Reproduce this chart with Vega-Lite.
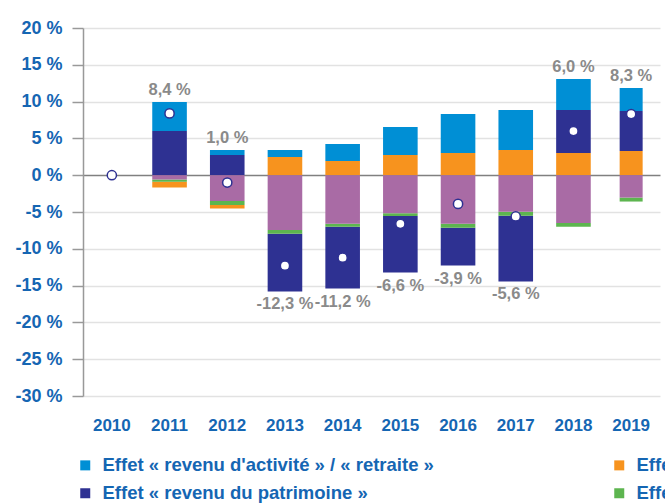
{
  "$schema": "https://vega.github.io/schema/vega-lite/v6.json",
  "autosize": {"type": "none"},
  "width": 577,
  "height": 368,
  "padding": {"left": 83, "top": 28, "right": 5, "bottom": 108},
  "background": "white",
  "config": {
    "view": {"stroke": null},
    "font": "Liberation Sans",
    "axisY": {
      "title": null,
      "labelOverlap": false,
      "labelFont": "Liberation Sans", "labelFontSize": 18, "labelFontWeight": "bold",
      "labelColor": "#1566b3", "labelPadding": 10,
      "tickSize": 11, "tickColor": "#999999", "tickWidth": 1.5,
      "domainColor": "#999999", "domainWidth": 1.5,
      "grid": true, "gridWidth": 1.5
    }
  },
  "datasets": {
    "segments": [
      {"year": "2011", "series": "Effet « revenu d'activité » / « retraite »", "value": 3.95},
      {"year": "2011", "series": "Effet « revenu du patrimoine »", "value": 6.0},
      {"year": "2011", "series": "Effet « prestations sociales »", "value": -0.77},
      {"year": "2011", "series": "Effet « prélèvements »", "value": -0.3},
      {"year": "2011", "series": "Effet « prix »", "value": -0.6},
      {"year": "2012", "series": "Effet « revenu d'activité » / « retraite »", "value": 0.68},
      {"year": "2012", "series": "Effet « revenu du patrimoine »", "value": 2.74},
      {"year": "2012", "series": "Effet « prestations sociales »", "value": -0.5},
      {"year": "2012", "series": "Effet « prélèvements »", "value": -0.54},
      {"year": "2012", "series": "Effet « prix »", "value": -3.5},
      {"year": "2013", "series": "Effet « revenu d'activité » / « retraite »", "value": 0.95},
      {"year": "2013", "series": "Effet « revenu du patrimoine »", "value": -7.83},
      {"year": "2013", "series": "Effet « prestations sociales »", "value": 2.47},
      {"year": "2013", "series": "Effet « prélèvements »", "value": -0.54},
      {"year": "2013", "series": "Effet « prix »", "value": -7.43},
      {"year": "2014", "series": "Effet « revenu d'activité » / « retraite »", "value": 2.31},
      {"year": "2014", "series": "Effet « revenu du patrimoine »", "value": -8.4},
      {"year": "2014", "series": "Effet « prestations sociales »", "value": 1.93},
      {"year": "2014", "series": "Effet « prélèvements »", "value": -0.4},
      {"year": "2014", "series": "Effet « prix »", "value": -6.6},
      {"year": "2015", "series": "Effet « revenu d'activité » / « retraite »", "value": 3.81},
      {"year": "2015", "series": "Effet « revenu du patrimoine »", "value": -7.7},
      {"year": "2015", "series": "Effet « prestations sociales »", "value": 2.74},
      {"year": "2015", "series": "Effet « prélèvements »", "value": -0.36},
      {"year": "2015", "series": "Effet « prix »", "value": -5.17},
      {"year": "2016", "series": "Effet « revenu d'activité » / « retraite »", "value": 5.3},
      {"year": "2016", "series": "Effet « revenu du patrimoine »", "value": -5.12},
      {"year": "2016", "series": "Effet « prestations sociales »", "value": 3.01},
      {"year": "2016", "series": "Effet « prélèvements »", "value": -0.54},
      {"year": "2016", "series": "Effet « prix »", "value": -6.61},
      {"year": "2017", "series": "Effet « revenu d'activité » / « retraite »", "value": 5.44},
      {"year": "2017", "series": "Effet « revenu du patrimoine »", "value": -8.92},
      {"year": "2017", "series": "Effet « prestations sociales »", "value": 3.42},
      {"year": "2017", "series": "Effet « prélèvements »", "value": -0.54},
      {"year": "2017", "series": "Effet « prix »", "value": -4.98},
      {"year": "2018", "series": "Effet « revenu d'activité » / « retraite »", "value": 4.21},
      {"year": "2018", "series": "Effet « revenu du patrimoine »", "value": 5.85},
      {"year": "2018", "series": "Effet « prestations sociales »", "value": 3.01},
      {"year": "2018", "series": "Effet « prélèvements »", "value": -0.54},
      {"year": "2018", "series": "Effet « prix »", "value": -6.48},
      {"year": "2019", "series": "Effet « revenu d'activité » / « retraite »", "value": 3.13},
      {"year": "2019", "series": "Effet « revenu du patrimoine »", "value": 5.43},
      {"year": "2019", "series": "Effet « prestations sociales »", "value": 3.29},
      {"year": "2019", "series": "Effet « prélèvements »", "value": -0.54},
      {"year": "2019", "series": "Effet « prix »", "value": -3.04}
    ],
    "totals": [
      {"year": "2010", "total": 0, "label": "", "side": "none"},
      {"year": "2011", "total": 8.4, "label": "8,4 %", "side": "top"},
      {"year": "2012", "total": -1.0, "label": "1,0 %", "side": "top"},
      {"year": "2013", "total": -12.3, "label": "-12,3 %", "side": "bottom"},
      {"year": "2014", "total": -11.2, "label": "-11,2 %", "side": "bottom"},
      {"year": "2015", "total": -6.6, "label": "-6,6 %", "side": "bottom"},
      {"year": "2016", "total": -3.9, "label": "-3,9 %", "side": "bottom"},
      {"year": "2017", "total": -5.6, "label": "-5,6 %", "side": "bottom"},
      {"year": "2018", "total": 6.0, "label": "6,0 %", "side": "top"},
      {"year": "2019", "total": 8.3, "label": "8,3 %", "side": "top"}
    ]
  },
  "layer": [
    {
      "data": {"name": "segments"},
      "transform": [
        {"calculate": "indexof(['Effet « prix »','Effet « prélèvements »','Effet « prestations sociales »','Effet « revenu du patrimoine »','Effet « revenu d\\'activité » / « retraite »'], datum.series)", "as": "ord"}
      ],
      "mark": {"type": "bar"},
      "encoding": {
        "x": {
          "field": "year", "type": "nominal",
          "scale": {"domain": ["2010","2011","2012","2013","2014","2015","2016","2017","2018","2019"], "paddingInner": 0.4, "paddingOuter": 0.2},
          "axis": {
            "title": null, "labelAngle": 0, "domain": false, "ticks": false,
            "labelFont": "Liberation Sans", "labelFontSize": 17, "labelFontWeight": "bold",
            "labelColor": "#1566b3", "labelPadding": 21
          }
        },
        "y": {
          "field": "value", "type": "quantitative", "stack": "zero",
          "scale": {"domain": [-30, 20], "nice": false},
          "axis": {
            "values": [-30,-25,-20,-15,-10,-5,0,5,10,15,20],
            "labelExpr": "datum.value + ' %'",
            "gridColor": {"condition": {"test": "datum.value === 0", "value": "#808080"}, "value": "#e2e2e2"}
          }
        },
        "color": {
          "field": "series", "type": "nominal",
          "scale": {
            "domain": ["Effet « revenu d'activité » / « retraite »", "Effet « prestations sociales »", "Effet « revenu du patrimoine »", "Effet « prélèvements »", "Effet « prix »"],
            "range": ["#008fd5", "#f7931e", "#2e3192", "#5db54f", "#a96ba5"]
          },
          "legend": {
            "title": null,
            "orient": "none",
            "legendX": -7,
            "legendY": 428,
            "direction": "horizontal",
            "columns": 2,
            "values": ["Effet « revenu d'activité » / « retraite »", "Effet « prestations sociales »", "Effet « revenu du patrimoine »", "Effet « prélèvements »"],
            "symbolType": "square",
            "symbolSize": 100,
            "symbolStrokeWidth": 0,
            "labelFont": "Liberation Sans",
            "labelFontSize": 18.5,
            "labelFontWeight": "bold",
            "labelColor": "#1566b3",
            "labelOffset": 8,
            "labelLimit": 0,
            "rowPadding": 9,
            "columnPadding": 176,
            "padding": 0
          }
        },
        "order": {"field": "ord", "type": "quantitative"},
        "size": {"condition": {"test": "datum.year == '2019'", "value": 23}, "value": 34.6}
      }
    },
    {
      "data": {"name": "totals"},
      "mark": {"type": "point", "filled": true, "fill": "white", "stroke": "#2e3192", "strokeWidth": 1.5, "size": 85, "opacity": 1},
      "encoding": {
        "x": {"field": "year", "type": "nominal"},
        "y": {
          "field": "total", "type": "quantitative",
          "axis": {
            "values": [-30,-25,-20,-15,-10,-5,0,5,10,15,20],
            "labelExpr": "datum.value + ' %'",
            "gridColor": {"condition": {"test": "datum.value === 0", "value": "#808080"}, "value": "#e2e2e2"}
          }
        }
      }
    },
    {
      "data": {"name": "segments"},
      "transform": [
        {"calculate": "max(datum.value, 0)", "as": "pos"},
        {"calculate": "min(datum.value, 0)", "as": "neg"},
        {"aggregate": [{"op": "sum", "field": "pos", "as": "top"}, {"op": "sum", "field": "neg", "as": "bottom"}], "groupby": ["year"]},
        {"lookup": "year", "from": {"data": {"name": "totals"}, "key": "year", "fields": ["label", "side"]}},
        {"filter": "datum.side == 'top'"}
      ],
      "mark": {"type": "text", "baseline": "alphabetic", "dy": -7, "font": "Liberation Sans", "fontSize": 16.5, "fontWeight": "bold", "color": "#8a8a8a"},
      "encoding": {
        "x": {"field": "year", "type": "nominal"},
        "y": {
          "field": "top", "type": "quantitative",
          "axis": {
            "values": [-30,-25,-20,-15,-10,-5,0,5,10,15,20],
            "labelExpr": "datum.value + ' %'",
            "gridColor": {"condition": {"test": "datum.value === 0", "value": "#808080"}, "value": "#e2e2e2"}
          }
        },
        "text": {"field": "label"}
      }
    },
    {
      "data": {"name": "segments"},
      "transform": [
        {"calculate": "max(datum.value, 0)", "as": "pos"},
        {"calculate": "min(datum.value, 0)", "as": "neg"},
        {"aggregate": [{"op": "sum", "field": "pos", "as": "top"}, {"op": "sum", "field": "neg", "as": "bottom"}], "groupby": ["year"]},
        {"lookup": "year", "from": {"data": {"name": "totals"}, "key": "year", "fields": ["label", "side"]}},
        {"filter": "datum.side == 'bottom'"}
      ],
      "mark": {"type": "text", "baseline": "top", "dy": 5, "font": "Liberation Sans", "fontSize": 16.5, "fontWeight": "bold", "color": "#8a8a8a"},
      "encoding": {
        "x": {"field": "year", "type": "nominal"},
        "y": {
          "field": "bottom", "type": "quantitative",
          "axis": {
            "values": [-30,-25,-20,-15,-10,-5,0,5,10,15,20],
            "labelExpr": "datum.value + ' %'",
            "gridColor": {"condition": {"test": "datum.value === 0", "value": "#808080"}, "value": "#e2e2e2"}
          }
        },
        "text": {"field": "label"}
      }
    }
  ]
}
